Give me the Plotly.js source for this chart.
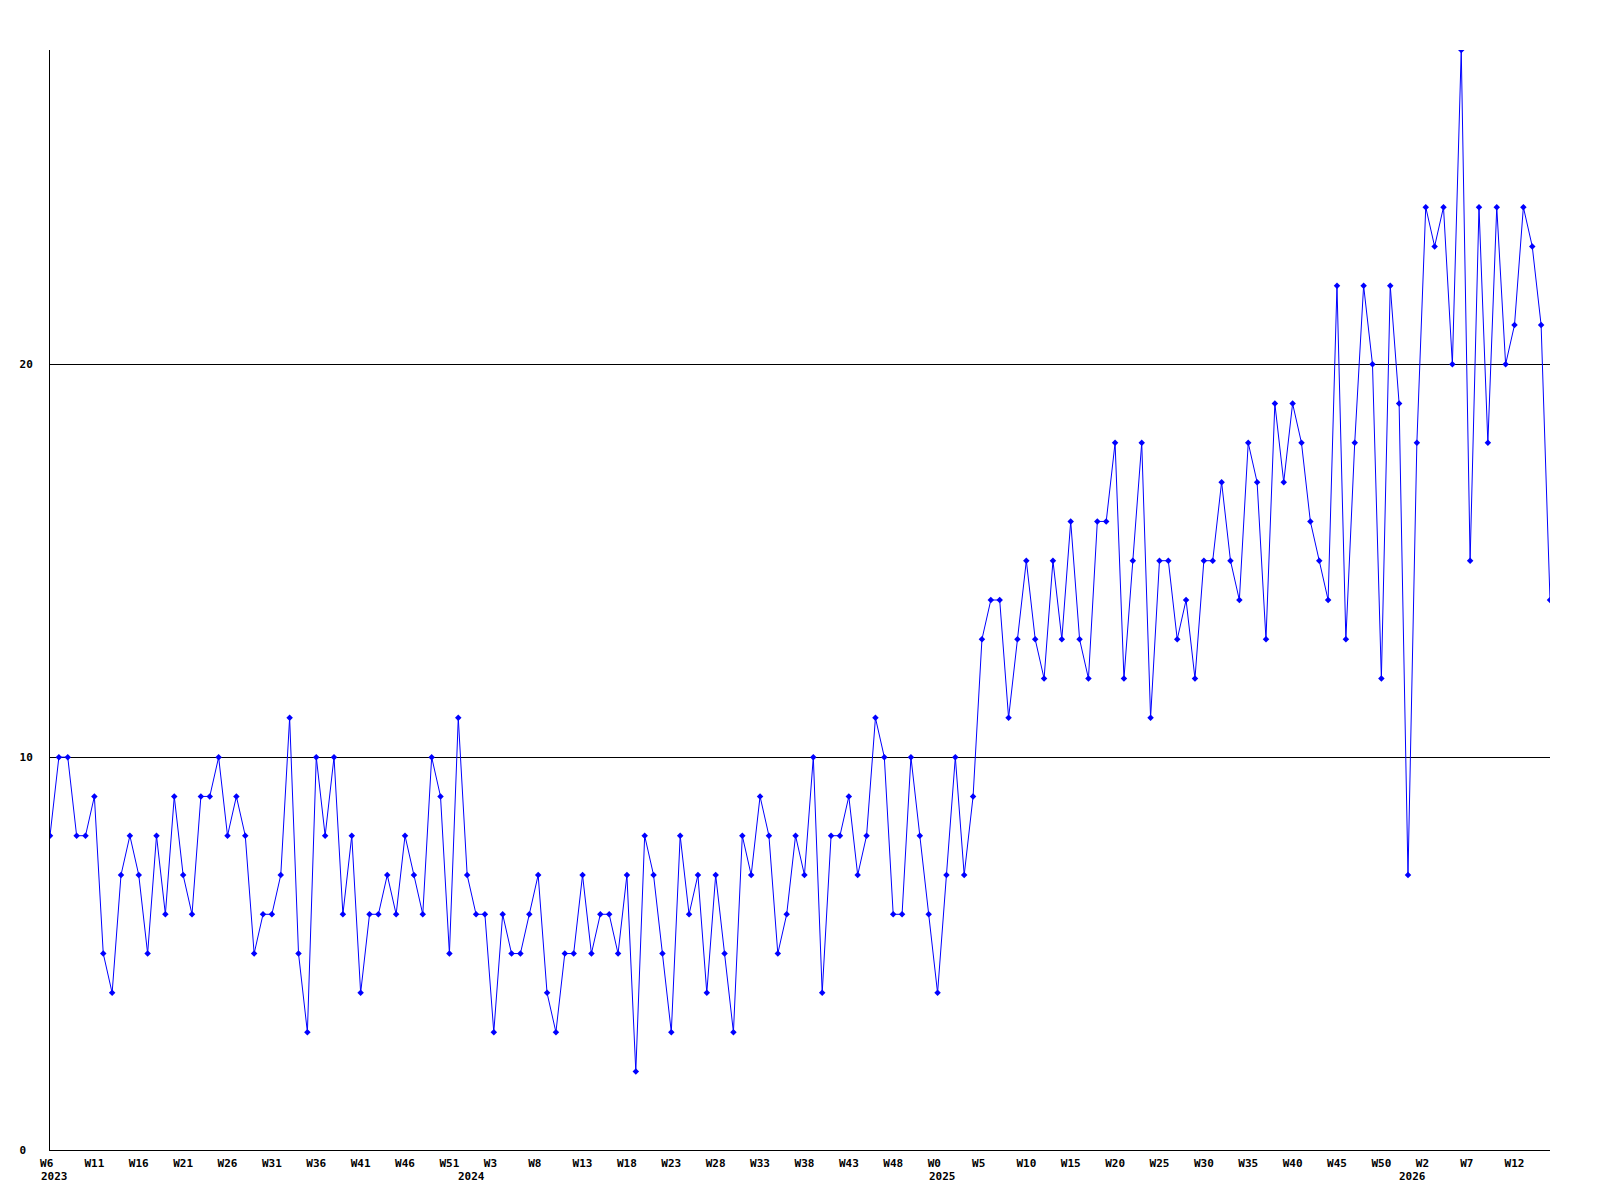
<!DOCTYPE html>
<html>
<head>
<meta charset="utf-8">
<script src="https://cdn.plot.ly/plotly-3.0.1.min.js"></script>
<style>html,body{margin:0;padding:0;background:#fff;}</style>
</head>
<body>
<div id="chart" style="width:1600px;height:1200px;"></div>
<script>
// Weekly values, one per week, starting at 2023 W6
const values2023 = [8,10,10,8,8,9,5,4,7,8,7,5,8,6,9,7,6,9,9,10,8,9,8,5,6,6,7,11,
  5,3,10,8,10,6,8,4,6,6,7,6,8,7,6,10,9,5,11];
const values2024 = [7,6,6,3,6,5,5,6,7,
  4,3,5,5,7,5,6,6,5,7,2,8,7,5,3,8,6,7,4,7,5,3,8,7,9,8,5,6,
  8,7,10,4,8,8,9,7,8,11,10,6,6];
const values2025 = [10,8,6,4,7,10,7,9,
  13,14,14,11,13,15,13,12,15,13,16,13,12,16,16,18,12,15,18,11,15,15,13,14,12,15,15,17,15,14,
  18,17,13,19,17,19,18,16,15,14,22,13,18,22,20,12,22,19,7];
const values2026 = [18,24,23,24,20,28,15,24,18,24,20,21,24,23,21,14];

// Week tick labels (every fifth week) and their week positions
const tickWeeks = [0,5,10,15,20,25,30,35,40,45,50,55,60,65,70,75,80,85,90,95,100,105,110,115,120,125,130,135,140,145,150,155,160,165];
const tickLabels = ["W6","W11","W16","W21","W26","W31","W36","W41","W46","W51",
  "W3","W8","W13","W18","W23","W28","W33","W38","W43","W48",
  "W0","W5","W10","W15","W20","W25","W30","W35","W40","W45","W50",
  "W2","W7","W12"];
// Year labels and the week position where each year starts
const yearWeeks = [0,47,100,153];
const yearLabels = ["2023","2024","2025","2026"];

const yTicks = [0,10,20];
const yLabels = ["0","10","20"];

const values = values2023.concat(values2024, values2025, values2026);
const weekPos = values.map((_, i) => i);

const fontFam = '"DejaVu Sans Mono", "Liberation Mono", monospace';
const pad = s => (s.length < 3 ? s + "\u00a0".repeat(3 - s.length) : s);

const trace = {
  x: weekPos,
  y: values,
  type: 'scatter',
  mode: 'lines+markers',
  line: {color: '#0000ff', width: 1},
  marker: {color: '#0000ff', symbol: 'diamond', size: 5, line: {width: 0}},
  hoverinfo: 'x+y'
};

const annotations = yearWeeks.map((w, i) => ({
  x: w, xref: 'x', y: 0, yref: 'paper',
  text: yearLabels[i], showarrow: false,
  xanchor: 'left', yanchor: 'top',
  xshift: -11, yshift: -18,
  font: {family: fontFam, size: 11, color: '#000', weight: 'bold'}
}));

const layout = {
  width: 1600, height: 1200,
  margin: {l: 50, r: 50, t: 50, b: 50, pad: 0},
  paper_bgcolor: '#ffffff', plot_bgcolor: '#ffffff',
  showlegend: false,
  xaxis: {
    range: [0, values.length - 1],
    showline: true, linecolor: '#000', linewidth: 1,
    showgrid: false, zeroline: false, ticks: '',
    tickmode: 'array', tickvals: tickWeeks, ticktext: tickLabels.map(pad),
    tickangle: 0,
    tickfont: {family: fontFam, size: 11, color: '#000', weight: 'bold'},
    ticklabelstandoff: 3
  },
  yaxis: {
    range: [0, 28],
    showline: true, linecolor: '#000', linewidth: 1,
    showgrid: true, gridcolor: '#000', gridwidth: 1,
    zeroline: false, ticks: '',
    tickmode: 'array', tickvals: yTicks, ticktext: yLabels.map(s => s.length < 2 ? s + "\u00a0" : s),
    tickfont: {family: fontFam, size: 11, color: '#000', weight: 'bold'},
    ticklabelstandoff: 14
  },
  annotations: annotations
};

Plotly.newPlot('chart', [trace], layout, {displayModeBar: false, staticPlot: true});
</script>
</body>
</html>
